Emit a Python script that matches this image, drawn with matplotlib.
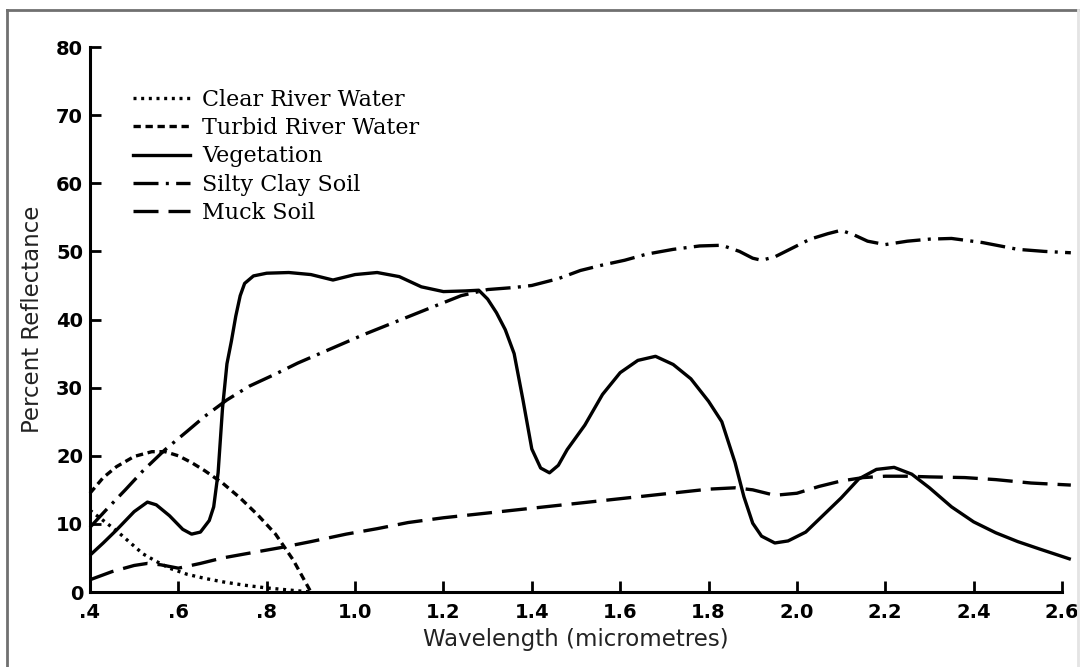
import matplotlib
matplotlib.use("Agg")
import matplotlib.pyplot as plt
from matplotlib.lines import Line2D

# wavelength (micrometres) / percent reflectance
clear_x = [0.40, 0.43, 0.46, 0.49, 0.52, 0.55, 0.58, 0.62, 0.66, 0.70, 0.75, 0.80, 0.85, 0.90]
clear_y = [12.0, 10.5, 9.0, 7.3, 5.6, 4.5, 3.5, 2.6, 2.0, 1.5, 1.0, 0.6, 0.3, 0.0]

turbid_x = [0.40, 0.43, 0.46, 0.50, 0.54, 0.57, 0.60, 0.63, 0.66, 0.70, 0.74, 0.78, 0.82, 0.86, 0.90]
turbid_y = [14.5, 16.8, 18.4, 19.9, 20.6, 20.6, 20.0, 19.0, 17.8, 16.0, 13.8, 11.3, 8.5, 4.7, 0.0]

veg_x = [0.40, 0.43, 0.46, 0.50, 0.53, 0.55, 0.58, 0.61, 0.63, 0.65, 0.67, 0.68, 0.69,
         0.70, 0.71, 0.72, 0.73, 0.74, 0.75, 0.77, 0.80, 0.85, 0.90, 0.95, 1.00, 1.05,
         1.10, 1.15, 1.20, 1.25, 1.28, 1.30, 1.32, 1.34, 1.36, 1.38, 1.40, 1.42, 1.44,
         1.46, 1.48, 1.52, 1.56, 1.60, 1.64, 1.68, 1.72, 1.76, 1.80, 1.83, 1.86, 1.88,
         1.90, 1.92, 1.95, 1.98, 2.02, 2.06, 2.10, 2.14, 2.18, 2.22, 2.26, 2.30, 2.35,
         2.40, 2.45, 2.50, 2.55, 2.62]
veg_y = [5.4, 7.2, 9.1, 11.8, 13.2, 12.8, 11.2, 9.2, 8.5, 8.8, 10.5, 12.5, 17.5,
         27.0, 33.5, 36.8, 40.5, 43.5, 45.3, 46.4, 46.8, 46.9, 46.6, 45.8, 46.6, 46.9,
         46.3, 44.8, 44.1, 44.2, 44.3, 43.0, 41.0, 38.5, 35.0, 28.2, 21.0, 18.2, 17.5,
         18.6, 20.9, 24.5, 29.0, 32.2, 34.0, 34.6, 33.4, 31.3, 28.0, 25.0, 19.0, 14.0,
         10.1, 8.2, 7.2, 7.5, 8.8, 11.3, 13.8, 16.6, 18.0, 18.3, 17.3, 15.3, 12.5,
         10.3, 8.7, 7.4, 6.3, 4.8]

silty_x = [0.40, 0.44, 0.48, 0.52, 0.57, 0.62, 0.66, 0.71, 0.76, 0.82, 0.87, 0.92, 0.97,
           1.02, 1.07, 1.12, 1.17, 1.24, 1.30, 1.36, 1.40, 1.46, 1.51, 1.56, 1.61, 1.66,
           1.72, 1.78, 1.83, 1.87, 1.90, 1.92, 1.95, 1.99, 2.03, 2.07, 2.10, 2.13, 2.16,
           2.20, 2.25, 2.30, 2.35, 2.42, 2.50, 2.56, 2.62]
silty_y = [9.5, 12.3, 15.0, 17.8, 20.9, 23.6, 25.8, 28.2, 30.2, 32.0, 33.6, 35.0, 36.4,
           37.8, 39.1, 40.4, 41.7, 43.5, 44.4, 44.7, 45.0, 46.0, 47.2, 48.0, 48.7, 49.6,
           50.3, 50.8, 50.9, 50.0, 49.0, 48.7, 49.2, 50.5, 51.8, 52.6, 53.1, 52.4, 51.5,
           51.0, 51.5, 51.8, 51.9, 51.3, 50.3, 50.0, 49.8]

muck_x = [0.40, 0.45, 0.50, 0.53, 0.56, 0.60, 0.65, 0.70, 0.76, 0.83, 0.90, 0.98, 1.05,
          1.12, 1.20, 1.30, 1.40, 1.50, 1.60, 1.70, 1.80, 1.86, 1.90, 1.95, 2.00, 2.05,
          2.10, 2.15, 2.20, 2.25, 2.30, 2.38, 2.45, 2.53, 2.62]
muck_y = [1.8, 3.0, 3.9, 4.2, 4.0, 3.5, 4.2, 5.0, 5.7, 6.5, 7.4, 8.5, 9.3,
          10.2, 10.9, 11.6, 12.3, 13.0, 13.7, 14.4, 15.1, 15.3, 15.0, 14.2, 14.5, 15.5,
          16.3, 16.8, 17.0, 17.0, 16.9, 16.8, 16.5, 16.0, 15.7]

x_ticks = [0.4, 0.6, 0.8, 1.0, 1.2, 1.4, 1.6, 1.8, 2.0, 2.2, 2.4, 2.6]
x_tick_labels = [".4", ".6", ".8", "1.0", "1.2", "1.4", "1.6", "1.8", "2.0", "2.2", "2.4", "2.6"]
y_ticks = [0, 10, 20, 30, 40, 50, 60, 70, 80]

series = [
    ("Clear River Water", clear_x, clear_y, (0, (0.9, 1.4))),
    ("Turbid River Water", turbid_x, turbid_y, (0, (2.2, 1.4))),
    ("Vegetation", veg_x, veg_y, "-"),
    ("Silty Clay Soil", silty_x, silty_y, (0, (7.5, 2.2, 0.9, 2.2))),
    ("Muck Soil", muck_x, muck_y, (0, (7.5, 3.0))),
]

LW = 2.4

fig = plt.figure(figsize=(10.88, 6.67), dpi=100)
ax = fig.add_axes([0.0827, 0.1124, 0.8934, 0.8171])

for name, xs, ys, ls in series:
    ax.plot(xs, ys, color="black", lw=LW, linestyle=ls, label=name,
            clip_on=False, solid_capstyle="butt", dash_capstyle="butt")

ax.set_xlim(0.4, 2.6)
ax.set_ylim(0, 80)
for side in ("top", "right"):
    ax.spines[side].set_visible(False)
for side in ("left", "bottom"):
    ax.spines[side].set_linewidth(2.2)

tick_font = {"family": "DejaVu Sans", "weight": "bold", "size": 14}
ax.set_xticks(x_ticks)
ax.set_xticklabels(x_tick_labels, fontdict=tick_font)
ax.set_yticks(y_ticks)
ax.set_yticklabels([str(v) for v in y_ticks], fontdict=tick_font)
ax.tick_params(direction="in", length=8, width=2, pad=5)
ax.tick_params(axis="x", pad=8)

label_font = {"family": "DejaVu Sans", "size": 16.5, "color": "#222222"}
ax.set_xlabel("Wavelength (micrometres)", fontdict=label_font, labelpad=4)
ax.set_ylabel("Percent Reflectance", fontdict=label_font)
ax.yaxis.set_label_coords(-0.047, 0.5)

handles = [Line2D([], [], color="black", lw=LW, linestyle=ls, dash_capstyle="butt")
           for _, _, _, ls in series]
ax.legend(handles, [s[0] for s in series], loc="upper left",
          bbox_to_anchor=(133 / 1088, 1 - 89 / 667), bbox_transform=fig.transFigure,
          frameon=False, borderpad=0, borderaxespad=0, handlelength=2.57,
          handletextpad=0.54, labelspacing=0.28,
          prop={"family": "DejaVu Serif", "size": 16})

# grey frame around the picture
frame = dict(transform=fig.transFigure, lw=2, clip_on=False)
fig.add_artist(Line2D([7 / 1088, 7 / 1088], [0, 1 - 10 / 667], color="#707070", **frame))
fig.add_artist(Line2D([7 / 1088, 1078 / 1088], [1 - 10 / 667, 1 - 10 / 667], color="#707070", **frame))
fig.add_artist(Line2D([1078 / 1088, 1078 / 1088], [0, 1 - 10 / 667], color="#e4e4e4", **frame))

fig.savefig("out.png", dpi=100)
